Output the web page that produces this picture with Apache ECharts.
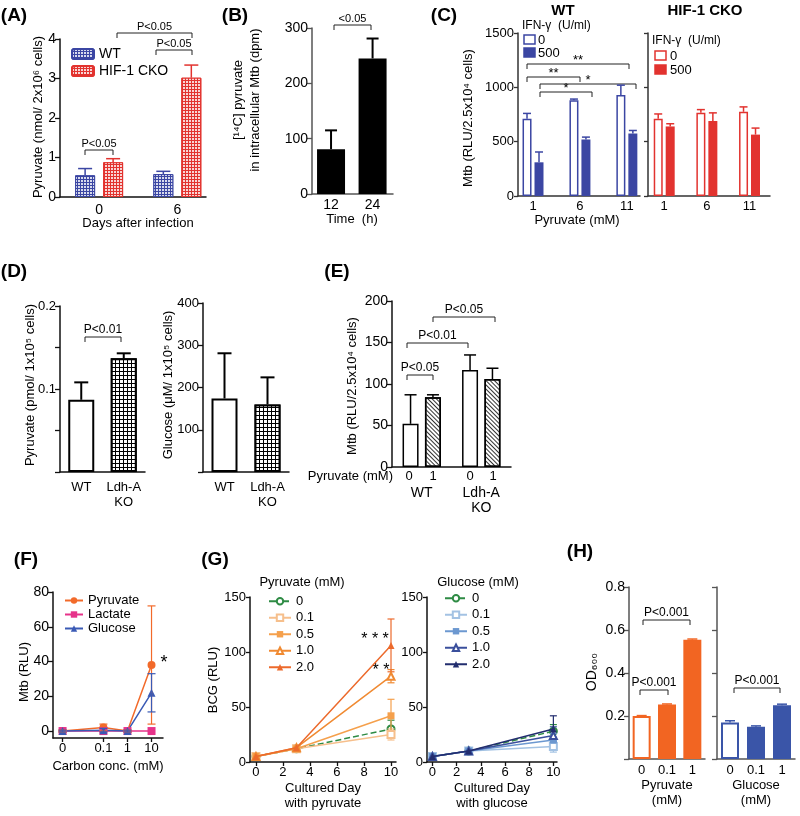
<!DOCTYPE html>
<html><head><meta charset="utf-8">
<script src="https://cdn.jsdelivr.net/npm/echarts@6/dist/echarts.min.js"></script>
<style>html,body{margin:0;padding:0;background:#fff}#c{width:800px;height:816px}</style>
</head><body><div id="c"></div>
<script>
// ================= DATA =================
// (A)
const aDays = [0, 6];
const aWT = [0.55, 0.58];
const aWTErr = [0.17, 0.07];
const aCKO = [0.88, 3.02];
const aCKOErr = [0.09, 0.32];
// (B)
const bTime = [12, 24];
const bPyruvate = [81, 245];
const bPyruvateErr = [34, 36];
// (C)
const cPyruvate = [1, 6, 11];
const cWT_ifn0 = [710, 880, 930];
const cWT_ifn0Err = [50, 12, 90];
const cWT_ifn500 = [310, 520, 575];
const cWT_ifn500Err = [95, 22, 28];
const cKO_ifn0 = [710, 765, 775];
const cKO_ifn0Err = [45, 30, 45];
const cKO_ifn500 = [640, 690, 565];
const cKO_ifn500Err = [25, 75, 60];
// (D)
const dGroups = ['WT', 'Ldh-A\nKO'];
const dPyruvate = [0.087, 0.137];
const dPyruvateErr = [0.021, 0.006];
const dGlucose = [174, 160];
const dGlucoseErr = [107, 64];
// (E)
const eGroups = ['WT', 'Ldh-A\nKO'];
const ePyr0 = [52, 117];
const ePyr0Err = [35, 18];
const ePyr1 = [84, 106];
const ePyr1Err = [3, 13];
// (F)
const fConc = [0, 0.1, 1, 10];
const fPyruvate = [0, 2, 0, 38];
const fPyruvateErr = [0.5, 2, 0.5, 34];
const fLactate = [0, 0, 0, 0];
const fLactateErr = [0, 0, 0, 0];
const fGlucose = [0, 0.5, 0, 22];
const fGlucoseErr = [0.5, 1, 0.5, 11];
// (G)
const gDay = [0, 3, 10];
const gPyrLevels = ['0', '0.1', '0.5', '1.0', '2.0'];
const gPyrRLU = [[5, 12, 30], [5, 12, 25], [5, 12, 42], [5, 13, 78], [5, 13, 106]];
const gPyrErr = [[1, 2, 8], [1, 2, 5], [1, 2, 15], [1, 2, 6], [1, 2, 24]];
const gGlcLevels = ['0', '0.1', '0.5', '1.0', '2.0'];
const gGlcRLU = [[5, 10, 28], [5, 10, 14], [5, 10, 20], [5, 10, 24], [5, 10, 30]];
const gGlcErr = [[1, 2, 6], [1, 2, 5], [1, 2, 6], [1, 2, 8], [1, 2, 12]];
// (H)
const hConc = ['0', '0.1', '1'];
const hPyruvateOD = [0.2, 0.253, 0.555];
const hPyruvateErr = [0.002, 0.003, 0.003];
const hGlucoseOD = [0.17, 0.15, 0.25];
const hGlucoseErr = [0.008, 0.004, 0.005];

// ================= STYLE / BUILD =================
const FONT = "'Liberation Sans', Arial, sans-serif";
const BLUE = '#3b46a3', RED = '#e2332f', ORANGE = '#f26522', HBLUE = '#3a55a8';
const grid = [], xAxis = [], yAxis = [], series = [], legend = [], graphic = [];
const plain = v => String(v);

function AL(c, w) { return { show: true, onZero: false, lineStyle: { color: c || '#111', width: w || 1.5 } }; }
function LBL(size, extra) { return Object.assign({ fontSize: size || 13, color: '#000', fontFamily: FONT, margin: 4, formatter: plain }, extra || {}); }
function TICK(show, len, c) { return { show: show, length: len || 5, lineStyle: { color: c || '#111', width: 1.3 } }; }
function panel(g, x, y) {
  grid.push(Object.assign({ containLabel: false, outerBoundsMode: 'none' }, g));
  const i = grid.length - 1;
  xAxis.push(Object.assign({ gridIndex: i, splitLine: { show: false } }, x));
  yAxis.push(Object.assign({ gridIndex: i, splitLine: { show: false } }, y));
  return i;
}
function errBars(gi, xs, ys, es, offset, color, cap, both, lw) {
  return {
    type: 'custom', xAxisIndex: gi, yAxisIndex: gi, silent: true, z: 4,
    data: xs.map((x, i) => [x, ys[i], es[i]]),
    renderItem(params, api) {
      const x = api.value(0), y = api.value(1), e = api.value(2);
      if (!e) return null;
      const p = api.coord([x, y]), t = api.coord([x, y + e]), b = api.coord([x, y - e]);
      const cx = p[0] + offset;
      const st = { stroke: color, lineWidth: lw || 1.5 };
      const ch = [
        { type: 'line', shape: { x1: cx, y1: p[1], x2: cx, y2: t[1] }, style: st },
        { type: 'line', shape: { x1: cx - cap, y1: t[1], x2: cx + cap, y2: t[1] }, style: st }
      ];
      if (both) {
        ch.push({ type: 'line', shape: { x1: cx, y1: p[1], x2: cx, y2: b[1] }, style: st });
        ch.push({ type: 'line', shape: { x1: cx - cap, y1: b[1], x2: cx + cap, y2: b[1] }, style: st });
      }
      return { type: 'group', children: ch };
    }
  };
}
function txt(x, y, s, o) {
  o = o || {};
  graphic.push({ type: 'text', silent: true, x: x, y: y, rotation: o.rot || 0,
    style: { text: s, font: (o.w || 'normal') + ' ' + (o.size || 13) + 'px ' + FONT, fill: o.color || '#000',
      align: o.align || 'center', verticalAlign: o.va || 'middle' } });
}
function bracket(x1, x2, y, label, o) {
  o = o || {};
  const leg = o.leg == null ? 5 : o.leg;
  graphic.push({ type: 'polyline', silent: true, shape: { points: [[x1, y + leg], [x1, y], [x2, y], [x2, y + leg]] },
    style: { stroke: '#222', lineWidth: 1, fill: null } });
  txt((x1 + x2) / 2 + (o.dx || 0), y - 1 + (o.dy || 0), label, { size: o.size || 11, va: 'bottom' });
}
function rectG(x, y, w, h, fill, stroke) {
  graphic.push({ type: 'rect', silent: true, shape: { x: x, y: y, width: w, height: h }, style: { fill: fill, stroke: stroke, lineWidth: 1.5 } });
}
const gridDecal = (c) => ({ symbol: 'rect', symbolSize: 1, dashArrayX: [2, 1], dashArrayY: [2, 1], color: c });

// ---------- (A) ----------
const gA = panel({ left: 60, top: 39, width: 146, height: 158 },
  { type: 'value', min: -3, max: 8.2, axisLine: AL(), axisTick: TICK(false), axisLabel: LBL(14, { customValues: aDays, margin: 6 }) },
  { type: 'value', min: 0, max: 4, interval: 1, axisLine: AL(), axisTick: TICK(true), axisLabel: LBL(14) });
series.push({ name: 'WT', type: 'bar', xAxisIndex: gA, yAxisIndex: gA, barWidth: 20, barGap: '40%',
  data: aDays.map((d, i) => [d, aWT[i]]), itemStyle: { color: BLUE, borderColor: BLUE, borderWidth: 1, decal: gridDecal('rgba(255,255,255,0.8)') } });
series.push({ name: 'HIF-1 CKO', type: 'bar', xAxisIndex: gA, yAxisIndex: gA, barWidth: 20, barGap: '40%',
  data: aDays.map((d, i) => [d, aCKO[i]]), itemStyle: { color: RED, borderColor: RED, borderWidth: 1, decal: gridDecal('rgba(255,255,255,0.8)') } });
series.push(errBars(gA, aDays, aWT, aWTErr, -14, BLUE, 7));
series.push(errBars(gA, aDays, aCKO, aCKOErr, 14, RED, 7));
legend.push({ left: 66, top: 42, orient: 'vertical', itemWidth: 22, itemHeight: 10, itemGap: 3, selectedMode: false,
  data: ['WT', 'HIF-1 CKO'], textStyle: { fontSize: 14, fontFamily: FONT, color: '#000' } });
txt(14, 16, '(A)', { w: 'bold', size: 19 });
txt(38, 117, 'Pyruvate (nmol/ 2x10⁶ cells)', { rot: Math.PI / 2 });
txt(138, 223, 'Days after infection');
bracket(85, 113, 150, 'P<0.05');
bracket(117, 192, 33, 'P<0.05');
bracket(156, 192, 50, 'P<0.05');

// ---------- (B) ----------
const gB = panel({ left: 312, top: 28, width: 81, height: 166 },
  { type: 'value', min: 6.5, max: 29.9, axisLine: AL('#555'), axisTick: TICK(false), axisLabel: LBL(14, { customValues: bTime, margin: 4 }) },
  { type: 'value', min: 0, max: 300, interval: 100, axisLine: AL('#555'), axisTick: TICK(true, 5, '#555'), axisLabel: LBL(14) });
series.push({ name: 'B', type: 'bar', xAxisIndex: gB, yAxisIndex: gB, barWidth: 28,
  data: bTime.map((t, i) => [t, bPyruvate[i]]), itemStyle: { color: '#000' } });
series.push(errBars(gB, bTime, bPyruvate, bPyruvateErr, 0, '#000', 6, false, 2));
txt(235, 16, '(B)', { w: 'bold', size: 19 });
txt(238, 100, '[¹⁴C] pyruvate', { rot: Math.PI / 2 });
txt(255, 100, 'in intracellular Mtb (dpm)', { rot: Math.PI / 2 });
txt(352, 219, 'Time  (h)');
bracket(334, 371, 25, '<0.05');

// ---------- (C) ----------
const cX = (extra) => Object.assign({ type: 'value', min: -0.6, max: 12.4, axisLine: AL('#333'), axisTick: TICK(false), axisLabel: LBL(13, { customValues: cPyruvate, margin: 4 }) }, extra || {});
const gCW = panel({ left: 518, top: 33, width: 122, height: 163 }, cX(),
  { type: 'value', min: 0, max: 1500, interval: 500, axisLine: AL('#333'), axisTick: TICK(true, 4, '#333'), axisLabel: LBL(13) });
const gCK = panel({ left: 648, top: 33, width: 122, height: 163 }, cX({ min: -0.9, max: 13.4 }),
  { type: 'value', min: 0, max: 1500, interval: 500, axisLine: AL('#333'), axisTick: TICK(true, 4, '#333'), axisLabel: { show: false } });
function cBars(gi, vals0, err0, vals5, err5, col) {
  series.push({ name: 'c0_' + gi, type: 'bar', xAxisIndex: gi, yAxisIndex: gi, barWidth: 9, barGap: '33%',
    data: cPyruvate.map((p, i) => [p, vals0[i]]), itemStyle: { color: '#fff', borderColor: col, borderWidth: 1.5 } });
  series.push({ name: 'c5_' + gi, type: 'bar', xAxisIndex: gi, yAxisIndex: gi, barWidth: 9, barGap: '33%',
    data: cPyruvate.map((p, i) => [p, vals5[i]]), itemStyle: { color: col } });
  series.push(errBars(gi, cPyruvate, vals0, err0, -6, col, 4));
  series.push(errBars(gi, cPyruvate, vals5, err5, 6, col, 4));
}
cBars(gCW, cWT_ifn0, cWT_ifn0Err, cWT_ifn500, cWT_ifn500Err, BLUE);
cBars(gCK, cKO_ifn0, cKO_ifn0Err, cKO_ifn500, cKO_ifn500Err, RED);
txt(444, 16, '(C)', { w: 'bold', size: 19 });
txt(563, 11, 'WT', { w: 'bold', size: 15 });
txt(705, 11, 'HIF-1 CKO', { w: 'bold', size: 15 });
txt(468, 118, 'Mtb (RLU/2.5x10⁴ cells)', { rot: Math.PI / 2 });
txt(577, 220, 'Pyruvate (mM)');
txt(522, 26, 'IFN-γ  (U/ml)', { align: 'left', size: 12 });
rectG(524, 35, 11, 9, '#fff', BLUE); txt(538, 40, '0', { align: 'left' });
rectG(524, 48, 11, 9, BLUE, BLUE); txt(538, 53, '500', { align: 'left' });
txt(652, 41, 'IFN-γ  (U/ml)', { align: 'left', size: 12 });
rectG(655, 51, 11, 9, '#fff', RED); txt(670, 56, '0', { align: 'left' });
rectG(655, 65, 11, 9, RED, RED); txt(670, 70, '500', { align: 'left' });
bracket(527, 629, 64, '**', { size: 13, dy: 4 });
bracket(527, 580, 77, '**', { size: 13, dy: 4 });
bracket(540, 636, 84, '*', { size: 13, dy: 4 });
bracket(540, 592, 92, '*', { size: 13, dy: 4 });

// ---------- (D) ----------
const dX = () => ({ type: 'category', data: dGroups, axisLine: AL(), axisTick: TICK(false), axisLabel: LBL(13, { margin: 8, lineHeight: 15, interval: 0 }) });
const gDL = panel({ left: 60, top: 306, width: 85, height: 166 }, dX(),
  { type: 'value', min: 0, max: 0.2, interval: 0.05, axisLine: AL(), axisTick: TICK(true), axisLabel: LBL(13, { formatter: v => (Math.abs(v - 0.1) < 1e-9 || Math.abs(v - 0.2) < 1e-9) ? String(Math.round(v * 10) / 10) : '' }) });
const gDR = panel({ left: 203, top: 303, width: 86, height: 169 }, dX(),
  { type: 'value', min: 0, max: 400, interval: 100, axisLine: AL(), axisTick: TICK(true), axisLabel: LBL(13, { formatter: v => v === 0 ? '' : String(v) }) });
const dStyles = [{ color: '#fff', borderColor: '#000', borderWidth: 2 }, { color: '#000', borderColor: '#000', borderWidth: 2, decal: { symbol: 'rect', symbolSize: 1, dashArrayX: [3, 1], dashArrayY: [3, 1], color: '#fff' } }];
series.push({ name: 'dP', type: 'bar', xAxisIndex: gDL, yAxisIndex: gDL, barWidth: 26,
  data: dPyruvate.map((v, i) => ({ value: v, itemStyle: dStyles[i] })) });
series.push(errBars(gDL, [0, 1], dPyruvate, dPyruvateErr, 0, '#000', 7, false, 2));
series.push({ name: 'dG', type: 'bar', xAxisIndex: gDR, yAxisIndex: gDR, barWidth: 26,
  data: dGlucose.map((v, i) => ({ value: v, itemStyle: dStyles[i] })) });
series.push(errBars(gDR, [0, 1], dGlucose, dGlucoseErr, 0, '#000', 7, false, 2));
txt(14, 272, '(D)', { w: 'bold', size: 19 });
txt(30, 385, 'Pyruvate (pmol/ 1x10⁵ cells)', { rot: Math.PI / 2 });
txt(168, 385, 'Glucose (μM/ 1x10⁵ cells)', { rot: Math.PI / 2 });
bracket(85, 121, 337, 'P<0.01', { size: 12 });

// ---------- (E) ----------
const gE = panel({ left: 392, top: 301, width: 119, height: 166 },
  { type: 'category', data: eGroups, axisLine: AL(), axisTick: TICK(false), axisLabel: LBL(14, { margin: 19, lineHeight: 15, interval: 0 }) },
  { type: 'value', min: 0, max: 200, interval: 50, axisLine: AL(), axisTick: TICK(true), axisLabel: LBL(14) });
series.push({ name: 'e0', type: 'bar', xAxisIndex: gE, yAxisIndex: gE, barWidth: 16, barGap: '40%',
  data: ePyr0, itemStyle: { color: '#fff', borderColor: '#000', borderWidth: 1.5 } });
series.push({ name: 'e1', type: 'bar', xAxisIndex: gE, yAxisIndex: gE, barWidth: 16, barGap: '40%',
  data: ePyr1, itemStyle: { color: '#fff', borderColor: '#000', borderWidth: 1.5,
    decal: { symbol: 'rect', symbolSize: 1, dashArrayX: [1, 0], dashArrayY: [1, 1.6], rotation: Math.PI / 4, color: '#333' } } });
series.push(errBars(gE, [0, 1], ePyr0, ePyr0Err, -11.2, '#000', 6));
series.push(errBars(gE, [0, 1], ePyr1, ePyr1Err, 11.2, '#000', 6));
txt(337, 272, '(E)', { w: 'bold', size: 19 });
txt(352, 386, 'Mtb (RLU/2.5x10⁴ cells)', { rot: Math.PI / 2 });
txt(393, 476, 'Pyruvate (mM)', { align: 'right', size: 13 });
txt(409, 476, '0', { size: 13 }); txt(433, 476, '1', { size: 13 });
txt(470, 476, '0', { size: 13 }); txt(493, 476, '1', { size: 13 });
bracket(407, 433, 375, 'P<0.05', { size: 12 });
bracket(407, 468, 343, 'P<0.01', { size: 12 });
bracket(433, 495, 317, 'P<0.05', { size: 12 });

// ---------- (F) ----------
const F_ZERO = 0.002;
const fX = fConc.map(c => c === 0 ? F_ZERO : c);
const gF = panel({ left: 53, top: 592, width: 110, height: 146 },
  { type: 'log', logBase: 10, min: 0.0008, max: 30, axisLine: AL(), axisTick: Object.assign(TICK(true, 4), { customValues: fX }),
    axisLabel: LBL(13, { customValues: fX, formatter: v => v < 0.01 ? '0' : String(v) }),
    name: 'Carbon conc. (mM)', nameLocation: 'middle', nameGap: 22, nameTextStyle: { fontSize: 13, fontFamily: FONT, color: '#000' } },
  { type: 'value', min: -4, max: 80, axisLine: AL(), axisTick: Object.assign(TICK(true, 5), { customValues: [0, 20, 40, 60, 80] }),
    axisLabel: LBL(14, { customValues: [0, 20, 40, 60, 80] }) });
const fDefs = [['Pyruvate', fPyruvate, fPyruvateErr, '#f26a2a', 'circle'], ['Lactate', fLactate, fLactateErr, '#e6338a', 'rect'], ['Glucose', fGlucose, fGlucoseErr, '#3a5ab5', 'triangle']];
fDefs.forEach(d => {
  series.push({ name: d[0], type: 'line', xAxisIndex: gF, yAxisIndex: gF, data: fX.map((x, i) => [x, d[1][i]]),
    symbol: d[4], symbolSize: 8, lineStyle: { color: d[3], width: 1.5 }, itemStyle: { color: d[3] } });
  series.push(errBars(gF, fX, d[1], d[2], 0, d[3], 4, true, 1.2));
});
legend.push({ left: 59, top: 589, orient: 'vertical', itemWidth: 18, itemHeight: 8, itemGap: 1, selectedMode: false,
  data: ['Pyruvate', 'Lactate', 'Glucose'], textStyle: { fontSize: 13, fontFamily: FONT, color: '#000', lineHeight: 13 } });
txt(26, 560, '(F)', { w: 'bold', size: 19 });
txt(24, 672, 'Mtb (RLU)', { rot: Math.PI / 2 });
txt(164, 663, '*', { size: 18 });

// ---------- (G) ----------
const gXL = (name) => ({ type: 'value', min: -0.44, max: 10.37, axisLine: AL(), axisTick: Object.assign(TICK(true, 4), { customValues: [0, 2, 4, 6, 8, 10] }),
  axisLabel: LBL(13, { customValues: [0, 2, 4, 6, 8, 10] }), name: name, nameLocation: 'middle', nameGap: 19,
  nameTextStyle: { fontSize: 13, fontFamily: FONT, color: '#000', lineHeight: 15, verticalAlign: 'top' } });
const gGL = panel({ left: 250, top: 597, width: 146, height: 165 }, gXL('Cultured Day\nwith pyruvate'),
  { type: 'value', min: 0, max: 150, interval: 50, axisLine: AL(), axisTick: TICK(true, 4), axisLabel: LBL(13) });
const gGR = panel({ left: 427, top: 597, width: 130, height: 165 }, Object.assign(gXL('Cultured Day\nwith glucose'), { min: -0.45, max: 10.3 }),
  { type: 'value', min: 0, max: 150, interval: 50, axisLine: AL(), axisTick: TICK(true, 4), axisLabel: LBL(13) });
const gPyrStyle = [['#2e8b44', 'emptyCircle', 'dashed'], ['#f6bf8c', 'emptyRect', 'solid'], ['#f5a04c', 'rect', 'solid'], ['#f08a32', 'emptyTriangle', 'solid'], ['#ec6a2c', 'triangle', 'solid']];
const gGlcStyle = [['#2e8b44', 'emptyCircle', 'dashed'], ['#a3c2e3', 'emptyRect', 'solid'], ['#6c98d0', 'rect', 'solid'], ['#3a4f9c', 'emptyTriangle', 'solid'], ['#222d6e', 'triangle', 'solid']];
function gSeries(gi, prefix, levels, vals, errs, styles) {
  levels.forEach((lv, k) => {
    const st = styles[k];
    series.push({ name: prefix + '|' + lv, type: 'line', xAxisIndex: gi, yAxisIndex: gi, data: gDay.map((d, i) => [d, vals[k][i]]),
      symbol: st[1], symbolSize: 7, lineStyle: { color: st[0], width: 1.5, type: st[2] }, itemStyle: { color: st[0], borderWidth: 1.5 }, z: 3 + k });
    series.push(errBars(gi, gDay, vals[k], errs[k], 0, st[0], 3.5, true, 1.2));
  });
}
gSeries(gGL, 'p', gPyrLevels, gPyrRLU, gPyrErr, gPyrStyle);
gSeries(gGR, 'g', gGlcLevels, gGlcRLU, gGlcErr, gGlcStyle);
const gFmt = n => n.split('|')[1];
legend.push({ left: 263, top: 589, orient: 'vertical', itemWidth: 22, itemHeight: 8, itemGap: 2, selectedMode: false, formatter: gFmt,
  data: gPyrLevels.map(l => 'p|' + l), textStyle: { fontSize: 13, fontFamily: FONT, color: '#000', lineHeight: 14.5 } });
legend.push({ left: 439, top: 586, orient: 'vertical', itemWidth: 22, itemHeight: 8, itemGap: 2, selectedMode: false, formatter: gFmt,
  data: gGlcLevels.map(l => 'g|' + l), textStyle: { fontSize: 13, fontFamily: FONT, color: '#000', lineHeight: 14.5 } });
txt(215, 560, '(G)', { w: 'bold', size: 19 });
txt(213, 680, 'BCG (RLU)', { rot: Math.PI / 2 });
txt(302, 582, 'Pyruvate (mM)');
txt(478, 582, 'Glucose (mM)');
txt(375, 640, '* * *', { size: 16 });
txt(381, 671, '* *', { size: 16 });

// ---------- (H) ----------
const hY = (show) => ({ type: 'value', min: 0, max: 0.8, interval: 0.2, axisLine: AL('#555', 1.5), axisTick: TICK(true, 5, '#555'),
  axisLabel: show ? LBL(14, { formatter: v => v === 0 ? '' : v.toFixed(1) }) : { show: false } });
const hX = (name) => ({ type: 'category', data: hConc, axisLine: AL('#555', 1.5), axisTick: TICK(false), axisLabel: LBL(13, { margin: 5, interval: 0 }),
  name: name, nameLocation: 'middle', nameGap: 19, nameTextStyle: { fontSize: 13, fontFamily: FONT, color: '#000', lineHeight: 15, verticalAlign: 'top' } });
const gHL = panel({ left: 629, top: 587, width: 76, height: 172 }, hX('Pyruvate\n(mM)'), hY(true));
const gHR = panel({ left: 717, top: 587, width: 78, height: 172 }, hX('Glucose\n(mM)'), hY(false));
function hBars(gi, vals, errs, col) {
  series.push({ name: 'h' + gi, type: 'bar', xAxisIndex: gi, yAxisIndex: gi, barWidth: 18,
    data: vals.map((v, i) => i === 0 ? { value: v, itemStyle: { color: '#fff', borderColor: col, borderWidth: 2 } } : { value: v }),
    itemStyle: { color: col } });
  series.push(errBars(gi, [0, 1, 2], vals, errs, 0, col, 5));
}
hBars(gHL, hPyruvateOD, hPyruvateErr, ORANGE);
hBars(gHR, hGlucoseOD, hGlucoseErr, HBLUE);
txt(580, 552, '(H)', { w: 'bold', size: 19 });
txt(592, 672, 'OD₆₀₀', { rot: Math.PI / 2, size: 14 });
bracket(643, 690, 620, 'P<0.001', { size: 12 });
bracket(640, 668, 690, 'P<0.001', { size: 12 });
bracket(734, 780, 688, 'P<0.001', { size: 12 });

const chart = echarts.init(document.getElementById('c'), null, { renderer: 'canvas', width: 800, height: 816 });
chart.setOption({
  animation: false, backgroundColor: '#fff', textStyle: { fontFamily: FONT },
  grid: grid, xAxis: xAxis, yAxis: yAxis, series: series, legend: legend, graphic: graphic
});
</script></body></html>
